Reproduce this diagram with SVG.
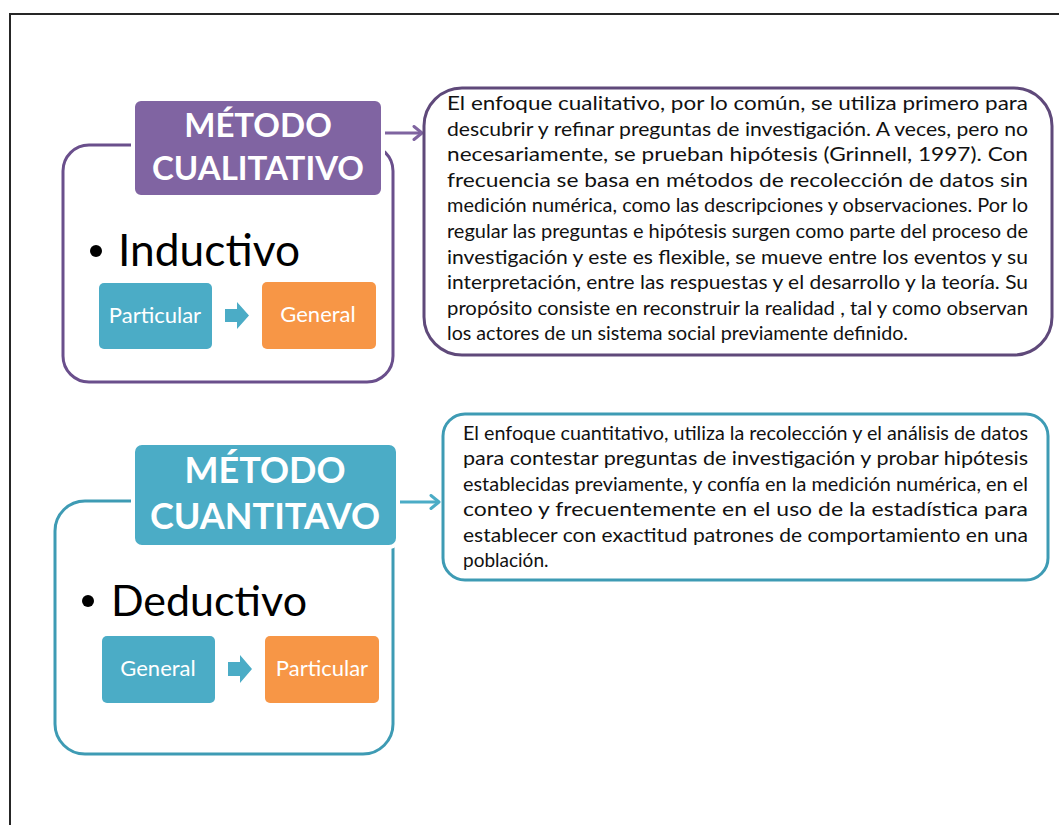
<svg xmlns="http://www.w3.org/2000/svg" width="1059" height="825" viewBox="0 0 1059 825">
<style>
.frame{fill:none;stroke:#262626;stroke-width:2}
.outerP{fill:#fff;stroke:#6a4f8c;stroke-width:3}
.outerT{fill:#fff;stroke:#3e9bb4;stroke-width:3}
.titleP{fill:#8064a2;stroke:#fff;stroke-width:4}
.titleT{fill:#4bacc6;stroke:#fff;stroke-width:4}
.ttl{font-family:Lato,"Open Sans",sans-serif;font-weight:bold;fill:#fff;text-anchor:middle}
.big{font-family:Lato,"Open Sans",sans-serif;fill:#000}
.small{font-family:Lato,"Open Sans",sans-serif;font-size:22px;fill:#fff;text-anchor:middle}
.teal{fill:#4bacc6}
.orange{fill:#f79646}
.para{font-family:Lato,"Open Sans",sans-serif;font-size:19px;fill:#111}
.boxP{fill:#fff;stroke:#5f497a;stroke-width:3}
.boxT{fill:#fff;stroke:#3e9bb4;stroke-width:3}
.conP{fill:none;stroke:#7f64a0;stroke-width:3}
.conT{fill:none;stroke:#4bacc6;stroke-width:3}
</style>
<defs>
<marker id="arrP" markerWidth="12" markerHeight="16" refX="10" refY="8" orient="auto" markerUnits="userSpaceOnUse">
<path d="M2,1.5 L10,8 L2,14.5" fill="none" stroke="#7f64a0" stroke-width="3" stroke-linecap="round" stroke-linejoin="round"/>
</marker>
<marker id="arrT" markerWidth="12" markerHeight="16" refX="10" refY="8" orient="auto" markerUnits="userSpaceOnUse">
<path d="M2,1.5 L10,8 L2,14.5" fill="none" stroke="#4bacc6" stroke-width="3" stroke-linecap="round" stroke-linejoin="round"/>
</marker>
</defs>
<rect width="1059" height="825" fill="#fff"/>
<path class="frame" d="M10,825 L10,14 L1059,14"/>

<g id="connectors">
<line class="conP" x1="384" y1="133" x2="422" y2="133" marker-end="url(#arrP)"/>
<line class="conT" x1="399" y1="502" x2="439" y2="502" marker-end="url(#arrT)"/>
</g>

<g id="cualitativo">
<rect class="outerP" x="63" y="145" width="330" height="237" rx="26"/>
<rect class="titleP" x="133" y="99" width="250" height="98" rx="8"/>
<text class="ttl" x="258" y="137" font-size="33">MÉTODO</text>
<text class="ttl" x="258" y="180" font-size="33">CUALITATIVO</text>
<circle cx="96" cy="251" r="6"/>
<text class="big" x="118" y="266" font-size="44" textLength="182" lengthAdjust="spacingAndGlyphs">Inductivo</text>
<rect class="teal" x="99" y="283" width="113" height="66" rx="5"/>
<text class="small" x="155" y="323">Particular</text>
<polygon class="teal" points="225,309 237,309 237,302 249,315.5 237,329 237,322 225,322"/>
<rect class="orange" x="262" y="282" width="114" height="67" rx="5"/>
<text class="small" x="318" y="322">General</text>
</g>

<g id="texto-cualitativo">
<rect class="boxP" x="424" y="88" width="628" height="267" rx="38"/>
<text class="para" x="447" y="110" textLength="581" lengthAdjust="spacingAndGlyphs">El enfoque cualitativo, por lo común, se utiliza primero para</text>
<text class="para" x="447" y="135.6" textLength="581" lengthAdjust="spacingAndGlyphs">descubrir y refinar preguntas de investigación. A veces, pero no</text>
<text class="para" x="447" y="161.2" textLength="581" lengthAdjust="spacingAndGlyphs">necesariamente, se prueban hipótesis (Grinnell, 1997). Con</text>
<text class="para" x="447" y="186.8" textLength="581" lengthAdjust="spacingAndGlyphs">frecuencia se basa en métodos de recolección de datos sin</text>
<text class="para" x="447" y="212.4" textLength="581" lengthAdjust="spacingAndGlyphs">medición numérica, como las  descripciones y observaciones. Por lo</text>
<text class="para" x="447" y="238" textLength="581" lengthAdjust="spacingAndGlyphs">regular las preguntas e hipótesis surgen como parte del proceso de</text>
<text class="para" x="447" y="263.6" textLength="581" lengthAdjust="spacingAndGlyphs">investigación y este es flexible,  se mueve entre los eventos y su</text>
<text class="para" x="447" y="289.2" textLength="581" lengthAdjust="spacingAndGlyphs">interpretación, entre las respuestas y el desarrollo y la teoría. Su</text>
<text class="para" x="447" y="314.8" textLength="581" lengthAdjust="spacingAndGlyphs">propósito consiste en reconstruir la realidad , tal y como observan</text>
<text class="para" x="447" y="340.4" textLength="461" lengthAdjust="spacingAndGlyphs">los actores de un sistema social previamente definido.</text>
</g>

<g id="cuantitativo">
<rect class="outerT" x="55" y="501" width="338" height="253" rx="30"/>
<rect class="titleT" x="133" y="443" width="265" height="104" rx="9"/>
<text class="ttl" x="265" y="483" font-size="36">MÉTODO</text>
<text class="ttl" x="265" y="529" font-size="36">CUANTITAVO</text>
<circle cx="88" cy="601" r="6"/>
<text class="big" x="111" y="616" font-size="43" textLength="196" lengthAdjust="spacingAndGlyphs">Deductivo</text>
<rect class="teal" x="102" y="636" width="113" height="67" rx="5"/>
<text class="small" x="158" y="676">General</text>
<polygon class="teal" points="228,662 240,662 240,655 252,669 240,683 240,676 228,676"/>
<rect class="orange" x="265" y="636" width="114" height="67" rx="5"/>
<text class="small" x="322" y="676">Particular</text>
</g>

<g id="texto-cuantitativo">
<rect class="boxT" x="443" y="414" width="605" height="166" rx="22"/>
<text class="para" x="463" y="440" textLength="565" lengthAdjust="spacingAndGlyphs">El enfoque cuantitativo, utiliza la recolección y el análisis de datos</text>
<text class="para" x="463" y="465.4" textLength="565" lengthAdjust="spacingAndGlyphs">para contestar preguntas de investigación y probar hipótesis</text>
<text class="para" x="463" y="490.8" textLength="565" lengthAdjust="spacingAndGlyphs">establecidas previamente, y confía en la medición numérica, en el</text>
<text class="para" x="463" y="516.2" textLength="565" lengthAdjust="spacingAndGlyphs">conteo y frecuentemente en el uso de la estadística para</text>
<text class="para" x="463" y="541.6" textLength="565" lengthAdjust="spacingAndGlyphs">establecer con exactitud patrones de comportamiento en una</text>
<text class="para" x="463" y="567">población.</text>
</g>
</svg>
